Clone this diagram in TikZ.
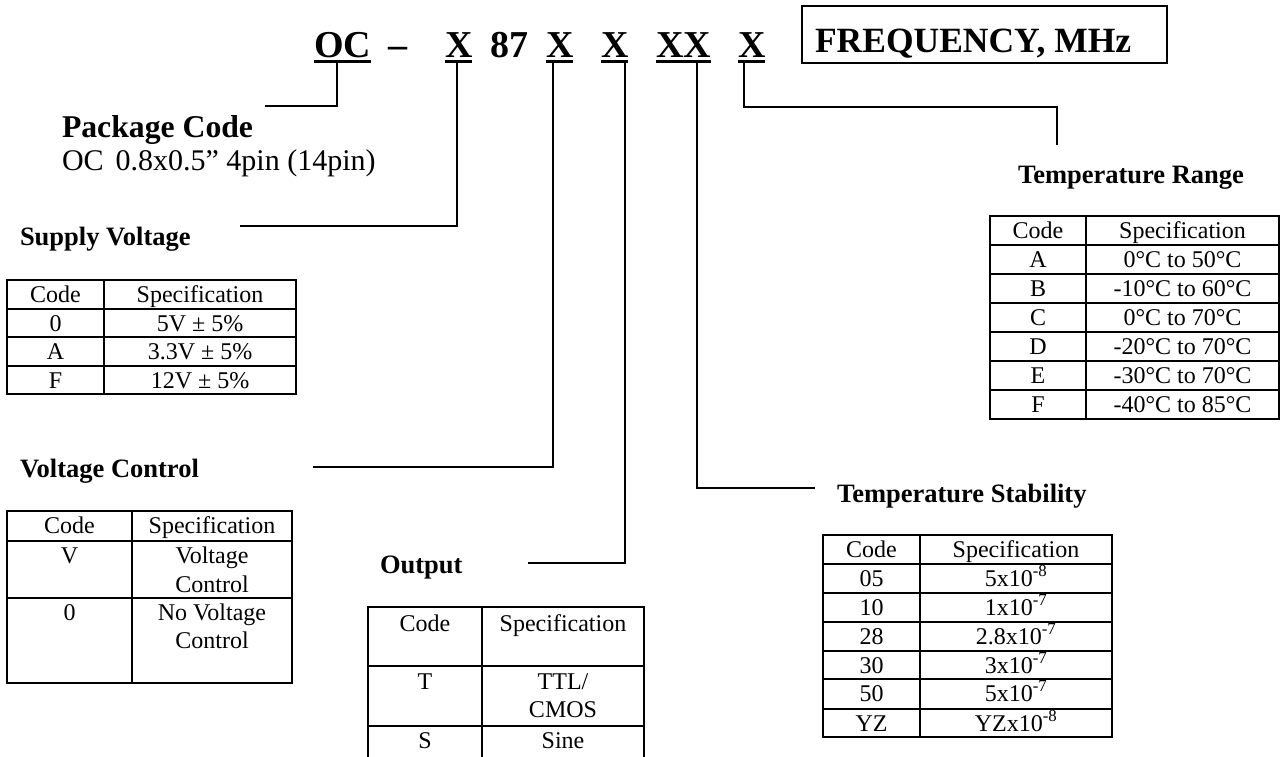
\documentclass[tikz,border=0pt]{standalone}
\usepackage{fontspec}
\setmainfont{Liberation Serif}
\usetikzlibrary{calc}
\newcommand\hdrfont{\bfseries\fontsize{38}{42}\selectfont}
\newcommand\freqfont{\bfseries\fontsize{35.5}{38}\selectfont}
\newcommand\pkgfont{\bfseries\fontsize{31.7}{34}\selectfont}
\newcommand\pkgtextfont{\fontsize{30}{32}\selectfont}
\newcommand\secfont{\bfseries\fontsize{26.5}{29}\selectfont}
\newcommand\cellfont{\fontsize{24}{28}\selectfont}
\begin{document}
\begin{tikzpicture}[x=1pt,y=-1pt,
  lbl/.style={inner sep=0pt,outer sep=0pt,anchor=base west},
  code/.style={lbl,font=\hdrfont},
  sec/.style={lbl,font=\secfont},
  cellc/.style={inner sep=0pt,outer sep=0pt,anchor=base,font=\cellfont},
  conn/.style={line width=1.8pt},
  tbl/.style={line width=2.4pt,line join=miter},
  uline/.style={line width=3.5pt},
  framebox/.style={line width=1.7pt}]
\fill[white] (0,0) rectangle (1280,756);
\useasboundingbox (0,0) rectangle (1280,756);

% ---------- part number ----------
\node[code] (oc) at (314,57) {OC};
\node[code] (dash) at (388,57) {–};
\node[code] (x1) at (445,57) {X};
\node[code] (n87) at (490,57) {87};
\node[code] (x2) at (546,57) {X};
\node[code] (x3) at (601,57) {X};
\node[code] (xx) at (656,57) {XX};
\node[code] (x5) at (738,57) {X};
\foreach \n in {oc,x1,x2,x3,xx,x5}
  \draw[uline] ($(\n.base west)+(0,4.5)$) -- ($(\n.base east)+(0,4.5)$);

\draw[framebox] (802,6) rectangle (1167,63);
\node[lbl,font=\freqfont] (freq) at (815,52) {FREQUENCY, MHz};

% ---------- pins on the underlines ----------
\coordinate (pin-oc) at (337,62);
\coordinate (pin-x1) at (457,62);
\coordinate (pin-x2) at (553,62);
\coordinate (pin-x3) at (625,62);
\coordinate (pin-xx) at (697,62);
\coordinate (pin-x5) at (744,62);

% ---------- headings ----------
\node[lbl,font=\pkgfont] (pkg) at (62,137) {Package Code};
\node[lbl,font=\pkgtextfont] (pkgtxt) at (62,170) {OC\hspace{12pt}0.8x0.5” 4pin (14pin)};
\node[sec] (sv) at (20,245) {Supply Voltage};
\node[sec] (vc) at (20,477) {Voltage Control};
\node[sec] (out) at (380,573) {Output};
\node[sec] (ts) at (837,502) {Temperature Stability};
\node[sec] (tr) at (1018,183) {Temperature Range};

% ---------- connector ends ----------
\coordinate (end-pkg) at (265,106);
\coordinate (end-sv) at (240,226);
\coordinate (end-vc) at (313,467);
\coordinate (end-out) at (528,563);
\coordinate (end-ts) at (815,488);
\coordinate (turn-tr) at (1057,107);
\coordinate (end-tr) at (1057,145);

\draw[conn] (pin-oc) |- (end-pkg);
\draw[conn] (pin-x1) |- (end-sv);
\draw[conn] (pin-x2) |- (end-vc);
\draw[conn] (pin-x3) |- (end-out);
\draw[conn] (pin-xx) |- (end-ts);
\draw[conn] (pin-x5) |- (turn-tr) -- (end-tr);

% ---------- Supply Voltage table ----------
\draw[tbl] (7,280) rectangle (296,394);
\draw[tbl] (104,280) -- (104,394);
\foreach \y in {309,337,366} \draw[tbl] (7,\y) -- (296,\y);
\foreach \y/\c/\s in {302/Code/Specification,331/0/5V ± 5\%,359/A/3.3V ± 5\%,388/F/12V ± 5\%}{
  \node[cellc] (sv-c\y) at (55.5,\y) {\c};
  \node[cellc] (sv-s\y) at (200,\y) {\s};
}

% ---------- Voltage Control table ----------
\draw[tbl] (7,511) rectangle (292,683);
\draw[tbl] (132,511) -- (132,683);
\foreach \y in {541,598} \draw[tbl] (7,\y) -- (292,\y);
\node[cellc] (vc-c1) at (69.5,533) {Code};
\node[cellc] (vc-s1) at (212,533) {Specification};
\node[cellc] (vc-c2) at (69.5,563) {V};
\node[cellc] (vc-s2a) at (212,563) {Voltage};
\node[cellc] (vc-s2b) at (212,592) {Control};
\node[cellc] (vc-c3) at (69.5,620) {0};
\node[cellc] (vc-s3a) at (212,620) {No Voltage};
\node[cellc] (vc-s3b) at (212,648) {Control};

% ---------- Output table ----------
\draw[tbl] (368,770) -- (368,607) -- (644,607) -- (644,770);
\draw[tbl] (482,607) -- (482,770);
\foreach \y in {666,726} \draw[tbl] (368,\y) -- (644,\y);
\node[cellc] (out-c1) at (425,631) {Code};
\node[cellc] (out-s1) at (563,631) {Specification};
\node[cellc] (out-c2) at (425,689) {T};
\node[cellc] (out-s2a) at (563,689) {TTL/};
\node[cellc] (out-s2b) at (563,717) {CMOS};
\node[cellc] (out-c3) at (425,748) {S};
\node[cellc] (out-s3) at (563,748) {Sine};

% ---------- Temperature Stability table ----------
\draw[tbl] (823,535) rectangle (1112,737);
\draw[tbl] (920,535) -- (920,737);
\foreach \y in {564,593,622,651,679,709} \draw[tbl] (823,\y) -- (1112,\y);
\foreach \y/\c/\s in {557/Code/Specification,586/05/5x10\textsuperscript{-8},615/10/1x10\textsuperscript{-7},644/28/2.8x10\textsuperscript{-7},673/30/3x10\textsuperscript{-7},701/50/5x10\textsuperscript{-7},731/YZ/YZx10\textsuperscript{-8}}{
  \node[cellc] (ts-c\y) at (871.5,\y) {\c};
  \node[cellc] (ts-s\y) at (1016,\y) {\s};
}

% ---------- Temperature Range table ----------
\draw[tbl] (990,216) rectangle (1279,419);
\draw[tbl] (1086,216) -- (1086,419);
\foreach \y in {245,274,303,332,361,390} \draw[tbl] (990,\y) -- (1279,\y);
\foreach \y/\c/\s in {238/Code/Specification,267/A/0°C to 50°C,296/B/-10°C to 60°C,325/C/0°C to 70°C,354/D/-20°C to 70°C,383/E/-30°C to 70°C,412/F/-40°C to 85°C}{
  \node[cellc] (tr-c\y) at (1038,\y) {\c};
  \node[cellc] (tr-s\y) at (1182.5,\y) {\s};
}
\end{tikzpicture}
\end{document}
